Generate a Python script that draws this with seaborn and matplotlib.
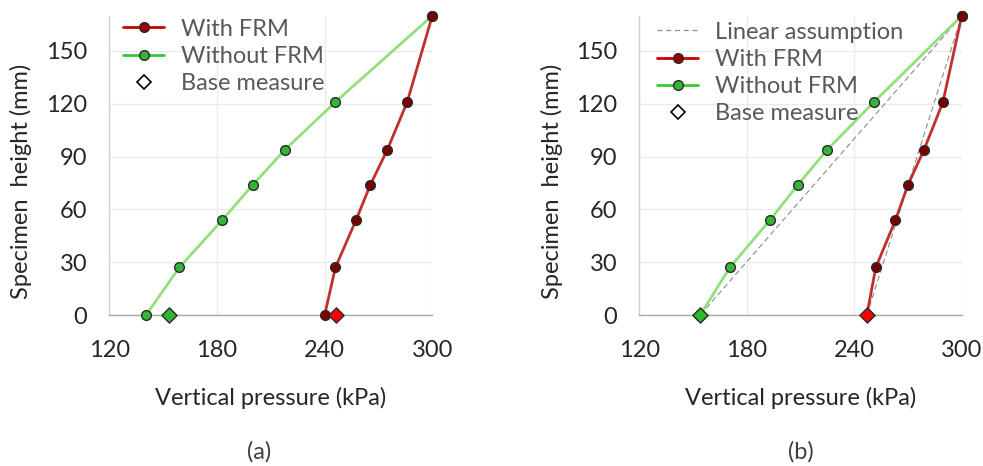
import matplotlib
matplotlib.use("Agg")
import matplotlib.pyplot as plt
from matplotlib.lines import Line2D
import seaborn as sns
import pandas as pd

# Specimen heights of the pressure cells (mm)
heights = [0, 27, 54, 74, 94, 121, 170]

# (a) measured vertical pressure (kPa)
with_frm_a = [240, 246, 257.5, 265.5, 275, 286, 300]
without_frm_a = [140.5, 159, 183, 200, 218, 246, 300]
base_with_a = 246.5
base_without_a = 153.5

# (b) corrected vertical pressure (kPa), starting at the base measure
with_frm_b = [247, 252, 263, 270, 279, 289.5, 300]
without_frm_b = [154, 170.5, 193, 208.5, 225, 251, 300]
base_with_b = 247
base_without_b = 154

# Linear assumption between base measure and top pressure
linear_heights = [0, 170]
linear_with = [247, 300]
linear_without = [154, 300]

x_ticks = [120, 180, 240, 300]
y_ticks = [0, 30, 60, 90, 120, 150]
panel_labels = ["(a)", "(b)"]

sns.set_theme(style="white")
plt.rcParams["font.family"] = ["Lato", "DejaVu Sans"]

RED_LINE = "#c0302e"
RED_FILL = "#7a0000"
GREEN_LINE = "#92e07a"
GREEN_FILL = "#35b535"
EDGE = "#2a2a2a"
TEXT = "#262626"
LEGEND_TEXT = "#595959"

fig = plt.figure(figsize=(9.83, 4.66), dpi=100)
ax_a = fig.add_axes([0.1112, 0.3240, 0.3286, 0.6423])
ax_b = fig.add_axes([0.6504, 0.3240, 0.3280, 0.6423])


def draw_profile(ax, pressures, color, fill):
    df = pd.DataFrame({"p": pressures, "h": heights})
    sns.lineplot(data=df, x="p", y="h", ax=ax, sort=False, estimator=None,
                 color=color, lw=2.0, marker="o", markersize=7,
                 markerfacecolor=fill, markeredgecolor=EDGE,
                 markeredgewidth=1.0, zorder=3, clip_on=False)


def draw_base(ax, p, fill):
    sns.scatterplot(x=[p], y=[0], ax=ax, marker="D", s=60, color=fill,
                    edgecolor=EDGE, linewidth=1.0, zorder=5, clip_on=False)


def style_axes(ax, label):
    ax.set_xlim(120, 300)
    ax.set_ylim(0, 170)
    ax.set_xticks(x_ticks)
    ax.set_yticks(y_ticks)
    ax.grid(True, color="#ebebeb", lw=1.0, zorder=0)
    ax.set_axisbelow(True)
    for s in ["top", "right"]:
        ax.spines[s].set_visible(False)
    ax.spines["left"].set_color("#d0d0d0")
    ax.spines["bottom"].set_color("#a8a8a8")
    ax.spines["left"].set_linewidth(1.0)
    ax.spines["bottom"].set_linewidth(1.0)
    ax.tick_params(axis="y", length=0, labelsize=17, colors=TEXT, pad=16)
    ax.tick_params(axis="x", length=0, labelsize=17, colors=TEXT, pad=18)
    ax.set_xlabel("Vertical pressure (kPa)", fontsize=17, color=TEXT)
    ax.set_ylabel("Specimen  height (mm)", fontsize=17, color=TEXT)
    ax.xaxis.set_label_coords(0.5, -0.24)
    ax.yaxis.set_label_coords(-0.238, 0.448)
    bb = ax.get_position()
    fig.text(bb.x0 + bb.width / 2 - (0.012 if label == "(a)" else 0.0),
             14 / 466, label, ha="center", va="center", fontsize=17,
             color="#404040")


def legend_handles(with_linear):
    h = []
    if with_linear:
        h.append(Line2D([], [], color="#8c8c8c", lw=0.9, ls=(0, (4, 3)),
                        label="Linear assumption"))
    h += [
        Line2D([], [], color="#cc0000", lw=2.0, marker="o", markersize=7,
               markerfacecolor="#9a0000", markeredgecolor=EDGE,
               label="With FRM"),
        Line2D([], [], color="#33cc33", lw=2.0, marker="o", markersize=7,
               markerfacecolor="#35b535", markeredgecolor=EDGE,
               label="Without FRM"),
        Line2D([], [], ls="none", marker="D", markersize=7,
               markerfacecolor="white", markeredgecolor="black",
               markeredgewidth=1.2, label="Base measure"),
    ]
    return h


def add_legend(ax, handles, anchor):
    leg = ax.legend(handles=handles, loc="upper left", bbox_to_anchor=anchor,
                    frameon=False, fontsize=17, handlelength=1.75,
                    handletextpad=0.7, labelspacing=0.26, borderaxespad=0.0,
                    borderpad=0.0)
    for t in leg.get_texts():
        t.set_color(LEGEND_TEXT)
    return leg


# (a)
draw_profile(ax_a, without_frm_a, GREEN_LINE, GREEN_FILL)
draw_profile(ax_a, with_frm_a, RED_LINE, RED_FILL)
draw_base(ax_a, base_without_a, "#2db82d")
draw_base(ax_a, base_with_a, "#ff0000")
style_axes(ax_a, panel_labels[0])
add_legend(ax_a, legend_handles(False), (0.042, 0.99))

# (b)
sns.lineplot(x=linear_without, y=linear_heights, ax=ax_b, color="#8c8c8c",
             lw=0.8, ls=(0, (5, 3)), zorder=2)
sns.lineplot(x=linear_with, y=linear_heights, ax=ax_b, color="#8c8c8c",
             lw=0.8, ls=(0, (5, 3)), zorder=2)
draw_profile(ax_b, without_frm_b, GREEN_LINE, GREEN_FILL)
draw_profile(ax_b, with_frm_b, RED_LINE, RED_FILL)
draw_base(ax_b, base_without_b, "#2db82d")
draw_base(ax_b, base_with_b, "#ff0000")
style_axes(ax_b, panel_labels[1])
add_legend(ax_b, legend_handles(True), (0.055, 0.98))

fig.savefig("out.png", dpi=100)
